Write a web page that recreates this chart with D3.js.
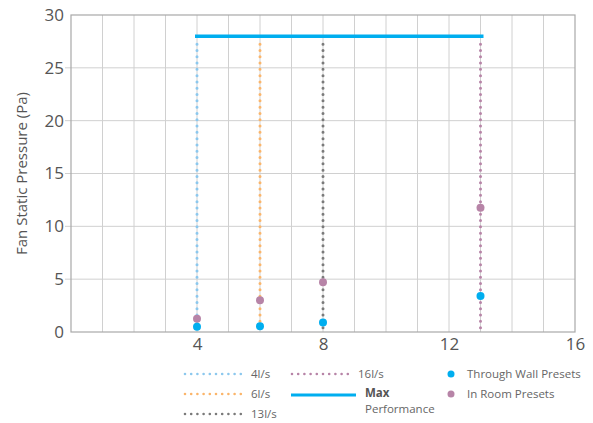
<!DOCTYPE html>
<html>
<head>
<meta charset="utf-8">
<script src="https://cdn.jsdelivr.net/npm/d3@7"></script>
<style>
  body { margin: 0; background: #fff; }
  text { font-family: "Open Sans", "Noto Sans", sans-serif; }
</style>
</head>
<body>
<div id="chart"></div>
<script>
// flow rates and where their dotted lines sit on the x axis
const flowLabels = ["4l/s", "6l/s", "13l/s", "16l/s"];
const flowX = [4, 6, 8, 13];
const flowColors = ["#8cc8ee", "#fbb56a", "#7a7a7a", "#b784a7"];

// preset points (Pa)
const throughWall = [0.5, 0.55, 0.9, 3.4];
const inRoom = [1.25, 3, 4.7, 11.75];

const maxPerformance = 28;
const xTicks = [4, 8, 12, 16];
const yTicks = [0, 5, 10, 15, 20, 25, 30];

const width = 593, height = 423;
const margin = { top: 15, right: 18, bottom: 91, left: 71 };
const w = width - margin.left - margin.right;
const h = height - margin.top - margin.bottom;

const svg = d3.select('#chart').append('svg')
  .attr('width', width)
  .attr('height', height);

const chart = svg.append('g')
  .attr('transform', `translate(${margin.left},${margin.top})`);

const x = d3.scaleLinear().domain([0, 16]).range([0, w]);
const y = d3.scaleLinear().domain([0, 30]).range([h, 0]);

// grid
chart.selectAll('.vgrid')
  .data(d3.range(1, 16))
  .join('line')
  .attr('class', 'vgrid')
  .attr('x1', d => x(d)).attr('x2', d => x(d))
  .attr('y1', 0).attr('y2', h)
  .attr('stroke', '#d0d0d0').attr('stroke-width', 1);

chart.selectAll('.hgrid')
  .data(yTicks.slice(1, -1))
  .join('line')
  .attr('class', 'hgrid')
  .attr('x1', -6).attr('x2', w)
  .attr('y1', d => y(d)).attr('y2', d => y(d))
  .attr('stroke', '#d0d0d0').attr('stroke-width', 1);

// frame
chart.append('rect')
  .attr('x', 0).attr('y', 0).attr('width', w).attr('height', h)
  .attr('fill', 'none').attr('stroke', '#a8a8a8').attr('stroke-width', 1.2);

// axes labels
const yAxis = chart.append('g')
  .call(d3.axisLeft(y).tickValues(yTicks).tickSize(0).tickPadding(7));
yAxis.select('.domain').remove();
yAxis.selectAll('text')
  .attr('font-size', 17).attr('fill', '#555')
  .style('font-family', '"Open Sans", "Noto Sans", sans-serif');

const xAxis = chart.append('g')
  .attr('transform', `translate(0,${h})`)
  .call(d3.axisBottom(x).tickValues(xTicks).tickSize(0).tickPadding(6));
xAxis.select('.domain').remove();
xAxis.selectAll('text')
  .attr('font-size', 17).attr('fill', '#555')
  .style('font-family', '"Open Sans", "Noto Sans", sans-serif');

svg.append('text')
  .attr('transform', `translate(22,${margin.top + h / 2}) rotate(-90)`)
  .attr('text-anchor', 'middle')
  .attr('dy', '0.35em')
  .attr('font-size', 15)
  .attr('fill', '#555')
  .text('Fan Static Pressure (Pa)');

// dotted flow lines
chart.selectAll('.flow-line')
  .data(flowX)
  .join('line')
  .attr('class', 'flow-line')
  .attr('x1', d => x(d)).attr('x2', d => x(d))
  .attr('y1', y(maxPerformance) + 8).attr('y2', h - 2)
  .attr('stroke', (d, i) => flowColors[i])
  .attr('stroke-width', 3)
  .attr('stroke-linecap', 'round')
  .attr('stroke-dasharray', '0 6.3');

// max performance line
chart.append('line')
  .attr('x1', x(flowX[0]) - 2).attr('x2', x(flowX[3]) + 3)
  .attr('y1', y(maxPerformance)).attr('y2', y(maxPerformance))
  .attr('stroke', '#00aeef').attr('stroke-width', 3.5);

// points
chart.selectAll('.room-pt')
  .data(inRoom)
  .join('circle')
  .attr('class', 'room-pt')
  .attr('cx', (d, i) => x(flowX[i]))
  .attr('cy', d => y(d))
  .attr('r', 4)
  .attr('fill', '#b784a7');

chart.selectAll('.wall-pt')
  .data(throughWall)
  .join('circle')
  .attr('class', 'wall-pt')
  .attr('cx', (d, i) => x(flowX[i]))
  .attr('cy', d => y(d))
  .attr('r', 4)
  .attr('fill', '#00aeef');

// legend
const legend = svg.append('g').attr('font-size', 11.5).attr('fill', '#666');
const legendPos = [[185, 374], [185, 394], [185, 414], [292, 374]];
flowLabels.forEach((lab, i) => {
  const [lx, ly] = legendPos[i];
  legend.append('line')
    .attr('x1', lx).attr('x2', lx + 60)
    .attr('y1', ly).attr('y2', ly)
    .attr('stroke', flowColors[i]).attr('stroke-width', 2.6)
    .attr('stroke-linecap', 'round').attr('stroke-dasharray', '0 6.2');
  legend.append('text')
    .attr('x', lx + 66).attr('y', ly).attr('dy', '0.35em')
    .text(lab);
});

legend.append('line')
  .attr('x1', 291).attr('x2', 356)
  .attr('y1', 395).attr('y2', 395)
  .attr('stroke', '#00aeef').attr('stroke-width', 3);
legend.append('text')
  .attr('x', 365).attr('y', 393).attr('dy', '0.35em')
  .attr('font-weight', 'bold').attr('fill', '#555')
  .text('Max');
legend.append('text')
  .attr('x', 365).attr('y', 409).attr('dy', '0.35em')
  .text('Performance');

[['Through Wall Presets', '#00aeef', 374], ['In Room Presets', '#b784a7', 394]].forEach(([lab, col, ly]) => {
  legend.append('circle').attr('cx', 451).attr('cy', ly).attr('r', 3.5).attr('fill', col);
  legend.append('text').attr('x', 467).attr('y', ly).attr('dy', '0.35em').text(lab);
});
</script>
</body>
</html>
